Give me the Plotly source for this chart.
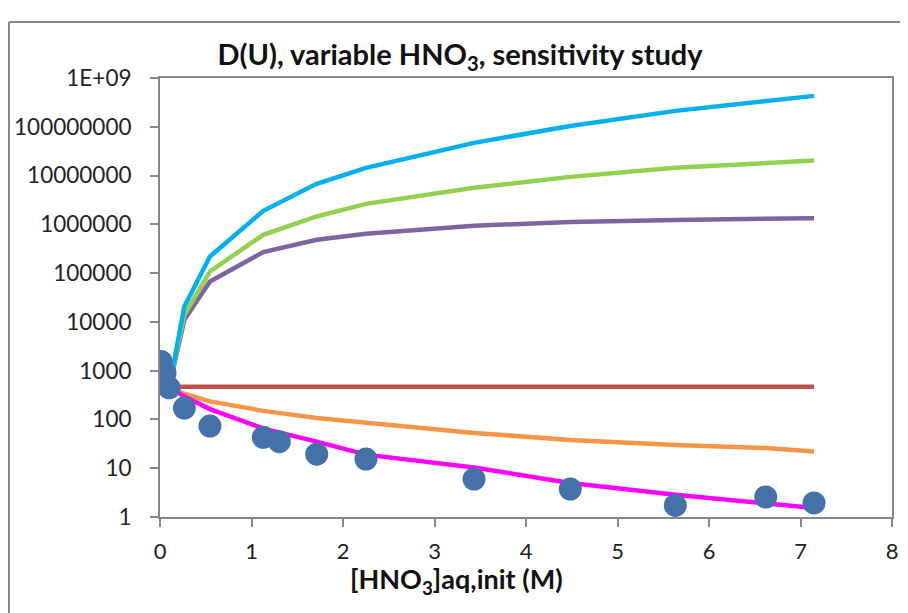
import plotly.graph_objects as go

# ---- data ----
exp_x = [0.01, 0.055, 0.10, 0.266, 0.546, 1.129, 1.304, 1.713, 2.251, 3.432, 4.484, 5.632, 6.620, 7.148]
exp_y = [1545, 893, 446, 171, 73, 43, 35, 19.4, 15.4, 6.0, 3.75, 1.73, 2.57, 1.94]

model_x = [0.10, 0.266, 0.546, 1.129, 1.713, 2.251, 3.432, 4.484, 5.632, 6.620, 7.148]
cyan_y = [450, 20700, 219000, 1.89e6, 6.76e6, 1.44e7, 4.68e7, 1.04e8, 2.12e8, 3.4e8, 4.3e8]
green_y = [450, 14000, 108000, 610000, 1.45e6, 2.63e6, 5.6e6, 9.4e6, 1.44e7, 1.82e7, 2.03e7]
purple_y = [450, 11000, 67300, 270000, 481000, 638000, 934000, 1.12e6, 1.23e6, 1.28e6, 1.34e6]
red_y = [468, 468, 468, 468, 468, 468, 468, 468, 468, 468, 468]
orange_y = [450, 336, 234, 150, 107, 87, 53, 38, 30, 26, 22]
magenta_y = [450, 296, 163, 65, 35, 19, 10.3, 5.0, 2.87, 1.94, 1.53]

y_tickvals = [1, 10, 100, 1000, 1e4, 1e5, 1e6, 1e7, 1e8, 1e9]
y_ticktext = ["1", "10", "100", "1000", "10000", "100000", "1000000", "10000000", "100000000", "1E+09"]
x_tickvals = [0, 1, 2, 3, 4, 5, 6, 7, 8]

# ---- layout geometry (page has an 8px body margin) ----
OFF = 8
W, H = 900, 605
P_LEFT, P_RIGHT, P_TOP, P_BOTTOM = 160, 892, 78, 517   # plot area in page pixels
L = P_LEFT - OFF
T = P_TOP - OFF
R = OFF + W - P_RIGHT
B = OFF + H - P_BOTTOM
FONT = "Lato"
GRAY = "#888888"
TXT = "#222222"

pw = P_RIGHT - P_LEFT
ph = P_BOTTOM - P_TOP
def px_x(p):
    return (p - P_LEFT) / pw
def px_y(p):
    return (P_BOTTOM - p) / ph

fig = go.Figure()
series = [
    (red_y, "#C0504D"),
    (orange_y, "#F79646"),
    (purple_y, "#8064A2"),
    (green_y, "#92D050"),
    (cyan_y, "#00B0F0"),
    (magenta_y, "#FF00FF"),
]
for ys, col in series:
    fig.add_trace(go.Scatter(x=model_x, y=ys, mode="lines",
                             line=dict(color=col, width=4.5), showlegend=False,
                             hoverinfo="skip"))
fig.add_trace(go.Scatter(x=exp_x, y=exp_y, mode="markers",
                         marker=dict(color="#4471A8", size=23, line=dict(width=0)),
                         showlegend=False))

# outer chart border (left and top visible)
fig.add_shape(type="line", xref="paper", yref="paper",
              x0=px_x(9), x1=px_x(9), y0=px_y(22), y1=px_y(640),
              line=dict(color=GRAY, width=2))
fig.add_shape(type="line", xref="paper", yref="paper",
              x0=px_x(9), x1=px_x(940), y0=px_y(22), y1=px_y(22),
              line=dict(color=GRAY, width=2))

# x-axis title (centred on chart area, as in the original)
fig.add_annotation(text="<b>[HNO<sub>3</sub>]aq,init (M)</b>", xref="paper", yref="paper",
                   x=px_x(456), y=px_y(580), xanchor="center", yanchor="middle",
                   showarrow=False, font=dict(family=FONT, size=27, color="#111111"))

fig.update_layout(
    width=W, height=H,
    margin=dict(l=L, r=R, t=T, b=B, autoexpand=False),
    paper_bgcolor="white", plot_bgcolor="white",
    font=dict(family=FONT, size=22, color=TXT),
    title=dict(text="<b>D(U), variable HNO<sub>3</sub>, sensitivity study</b>",
               x=(460 - OFF) / W, xanchor="center", y=1 - (55 - OFF) / H, yanchor="middle",
               font=dict(family=FONT, size=29, color="#111111")),
    xaxis=dict(range=[0, 8], tickvals=x_tickvals, showgrid=False, zeroline=False,
               showline=True, linecolor=GRAY, linewidth=2, mirror=True,
               ticks="outside", ticklen=8, tickcolor=GRAY, tickwidth=2,
               ticklabelstandoff=6,
               tickfont=dict(family=FONT, size=22, color=TXT)),
    yaxis=dict(type="log", range=[0, 9], tickvals=y_tickvals, ticktext=y_ticktext,
               showgrid=False, zeroline=False,
               showline=True, linecolor=GRAY, linewidth=2, mirror=True,
               ticks="outside", ticklen=8, tickcolor=GRAY, tickwidth=2,
               ticklabelstandoff=14,
               tickfont=dict(family=FONT, size=22.5, color=TXT)),
)

fig.write_html("out.html")
